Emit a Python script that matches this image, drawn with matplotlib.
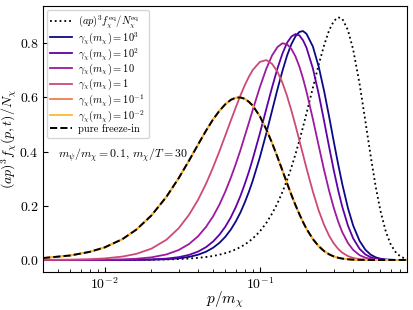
import numpy as np
import matplotlib
matplotlib.use("Agg")
import matplotlib.pyplot as plt

plt.rcParams["font.family"] = "serif"
plt.rcParams["font.serif"] = ["cmr10"]
plt.rcParams["mathtext.fontset"] = "cm"
plt.rcParams["axes.formatter.use_mathtext"] = True
plt.rcParams["axes.unicode_minus"] = False

# p / m_chi
p_over_m = [0.004, 0.006, 0.008, 0.01, 0.013, 0.016, 0.02, 0.025, 0.03, 0.035,
            0.04, 0.045, 0.05, 0.055, 0.06, 0.065, 0.07, 0.075, 0.08, 0.085,
            0.09, 0.1, 0.11, 0.12, 0.13, 0.14, 0.15, 0.16, 0.17, 0.18,
            0.19, 0.2, 0.22, 0.24, 0.26, 0.28, 0.3, 0.32, 0.34, 0.37,
            0.4, 0.44, 0.48, 0.52, 0.56, 0.6, 0.65, 0.7, 0.76, 0.82, 0.9]

# equilibrium distribution
f_eq = [0.0, 0.0, 0.0, 0.0001, 0.0003, 0.0005, 0.001, 0.0019, 0.0033, 0.0052,
        0.0077, 0.0108, 0.0147, 0.0195, 0.0251, 0.0316, 0.039, 0.0475, 0.0569, 0.0675,
        0.079, 0.105, 0.136, 0.171, 0.209, 0.251, 0.295, 0.342, 0.391, 0.441,
        0.491, 0.541, 0.636, 0.722, 0.793, 0.848, 0.882, 0.896, 0.891, 0.849,
        0.777, 0.650, 0.511, 0.380, 0.268, 0.181, 0.104, 0.056, 0.0248, 0.0102, 0.0028]

f_g1e3 = [0.0, 0.0, 0.0, 0.0, 0.0001, 0.0004, 0.001, 0.0027, 0.006, 0.0113,
          0.0193, 0.0304, 0.045, 0.0634, 0.0857, 0.112, 0.142, 0.175, 0.212, 0.251,
          0.292, 0.378, 0.466, 0.551, 0.630, 0.698, 0.755, 0.797, 0.826, 0.842,
          0.845, 0.835, 0.788, 0.713, 0.623, 0.529, 0.437, 0.354, 0.281, 0.192,
          0.127, 0.0703, 0.0373, 0.0191, 0.0095, 0.0046, 0.0018, 0.0007, 0.0002, 0.0, 0.0]

f_g1e2 = [0.0, 0.0, 0.0, 0.0001, 0.0003, 0.0007, 0.0019, 0.0049, 0.0103, 0.0187,
          0.0309, 0.0472, 0.0681, 0.0935, 0.123, 0.157, 0.195, 0.236, 0.280, 0.325,
          0.372, 0.466, 0.556, 0.637, 0.707, 0.762, 0.802, 0.825, 0.834, 0.829,
          0.811, 0.784, 0.707, 0.612, 0.512, 0.417, 0.331, 0.258, 0.197, 0.127,
          0.0796, 0.0409, 0.0202, 0.0097, 0.0045, 0.002, 0.0007, 0.0003, 0.0, 0.0, 0.0]

f_g1e1 = [0.0, 0.0001, 0.0003, 0.0008, 0.0021, 0.0044, 0.0096, 0.0203, 0.0366, 0.0589,
          0.0874, 0.122, 0.161, 0.205, 0.253, 0.303, 0.354, 0.405, 0.457, 0.506,
          0.553, 0.637, 0.705, 0.755, 0.786, 0.800, 0.796, 0.779, 0.751, 0.714,
          0.670, 0.622, 0.520, 0.421, 0.331, 0.255, 0.192, 0.142, 0.103, 0.0626,
          0.037, 0.0177, 0.0082, 0.0037, 0.0016, 0.0007, 0.0002, 0.0, 0.0, 0.0, 0.0]

f_g1e0 = [0.0003, 0.0012, 0.0029, 0.0057, 0.0124, 0.0225, 0.0416, 0.0745, 0.117, 0.167,
          0.222, 0.281, 0.342, 0.402, 0.460, 0.514, 0.563, 0.607, 0.645, 0.676,
          0.701, 0.731, 0.738, 0.724, 0.695, 0.654, 0.605, 0.551, 0.496, 0.441,
          0.389, 0.339, 0.252, 0.182, 0.129, 0.0893, 0.0609, 0.0409, 0.0271, 0.0143,
          0.0074, 0.003, 0.0012, 0.0005, 0.0002, 0.0, 0.0, 0.0, 0.0, 0.0, 0.0]

f_freezein = [0.007, 0.0165, 0.0298, 0.0464, 0.0767, 0.112, 0.164, 0.233, 0.302, 0.367,
              0.426, 0.477, 0.519, 0.551, 0.575, 0.591, 0.599, 0.600, 0.595, 0.584,
              0.570, 0.531, 0.483, 0.432, 0.380, 0.330, 0.283, 0.240, 0.202, 0.169,
              0.140, 0.115, 0.077, 0.0505, 0.0326, 0.0207, 0.013, 0.0081, 0.005, 0.0024,
              0.0011, 0.0004, 0.0001, 0.0, 0.0, 0.0, 0.0, 0.0, 0.0, 0.0, 0.0]

f_g1em1 = list(f_freezein)
f_g1em2 = list(f_freezein)

gamma_labels = [r"$\gamma_\chi(m_\chi) = 10^3$", r"$\gamma_\chi(m_\chi) = 10^2$",
                r"$\gamma_\chi(m_\chi) = 10$", r"$\gamma_\chi(m_\chi) = 1$",
                r"$\gamma_\chi(m_\chi) = 10^{-1}$", r"$\gamma_\chi(m_\chi) = 10^{-2}$"]
gamma_curves = [f_g1e3, f_g1e2, f_g1e1, f_g1e0, f_g1em1, f_g1em2]

colors = plt.cm.plasma(np.linspace(0, 0.85, 6))

fig = plt.figure(figsize=(4.13, 3.10), dpi=100)
ax = fig.add_axes([0.104, 0.123, 0.881, 0.858])

ax.semilogx(p_over_m, f_eq, ":", color="k", lw=1.3,
            label=r"$(ap)^3 f_\chi^{\rm eq}/N_\chi^{\rm eq}$")
for lab, ys, c in zip(gamma_labels, gamma_curves, colors):
    ax.semilogx(p_over_m, ys, color=c, lw=1.3, label=lab)
ax.semilogx(p_over_m, f_freezein, "--", color="k", lw=1.4, label="pure freeze-in")

ax.set_xlim(0.004, 0.887)
ax.set_ylim(-0.044, 0.938)
ax.set_xlabel(r"$p/m_\chi$", fontsize=11)
ax.set_ylabel(r"$(ap)^3 f_\chi(p,t)/N_\chi$", fontsize=10)
ax.xaxis.set_label_coords(0.5, -0.065)
ax.yaxis.set_label_coords(-0.066, 0.5)
ax.tick_params(which="both", direction="in", labelsize=10, pad=3)
ax.set_yticks([0.0, 0.2, 0.4, 0.6, 0.8])

ax.text(0.041, 0.44, r"$m_\psi/m_\chi = 0.1,\, m_\chi/T = 30$", transform=ax.transAxes,
        fontsize=8.5, va="center")

ax.legend(loc="upper left", fontsize=7.5, labelspacing=0.0, handlelength=2.1,
          handletextpad=0.6, borderaxespad=0.35, borderpad=0.35, framealpha=0.8)

fig.savefig("out.png", dpi=100)
